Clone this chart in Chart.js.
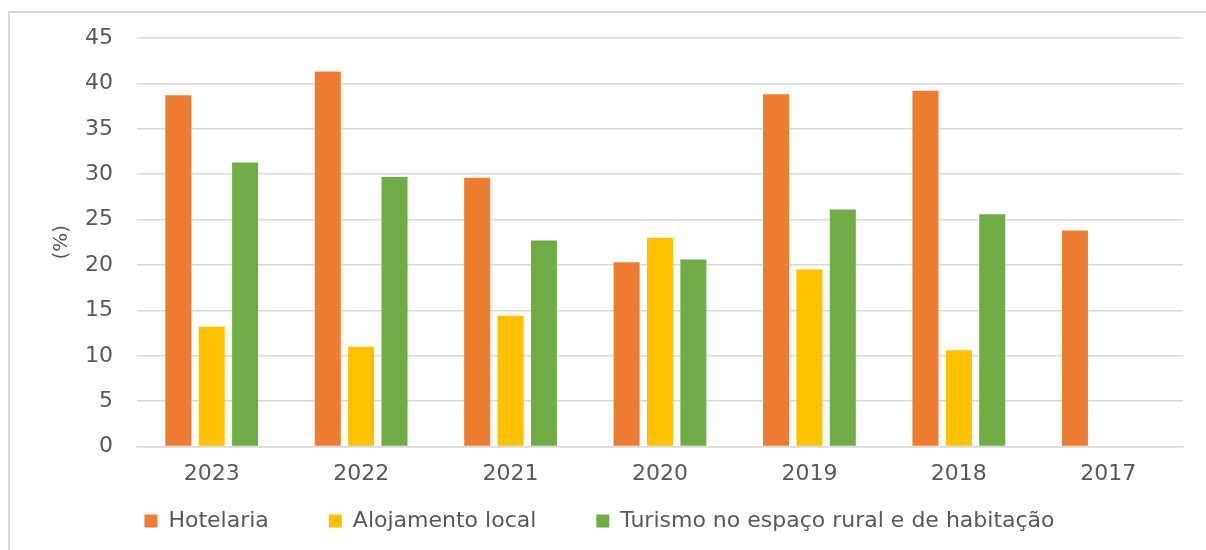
<!DOCTYPE html>
<html>
<head>
<meta charset="utf-8">
<script src="https://cdn.jsdelivr.net/npm/chart.js@4.4.1/dist/chart.umd.min.js"></script>
<style>
  html, body { margin: 0; padding: 0; background: #fff; overflow: hidden; }
</style>
</head>
<body>
<canvas id="c" width="1206" height="550"></canvas>
<script>
var years = ['2023', '2022', '2021', '2020', '2019', '2018', '2017'];
var hotelaria = [38.7, 41.3, 29.6, 20.3, 38.8, 39.2, 23.8];
var alojamento = [13.2, 11.0, 14.4, 23.0, 19.5, 10.6, null];
var turismo = [31.3, 29.7, 22.7, 20.6, 26.1, 25.6, null];
var yTicks = [0, 5, 10, 15, 20, 25, 30, 35, 40, 45];

var textColor = '#595959';
var gridColor = '#d9d9d9';

var data = {
    labels: years,
    datasets: [
        { label: 'Hotelaria', data: hotelaria, backgroundColor: '#ED7D31' },
        { label: 'Alojamento local', data: alojamento, backgroundColor: '#FFC000' },
        { label: 'Turismo no espaço rural e de habitação', data: turismo, backgroundColor: '#70AD47' },
    ]
};

// legend padding is used both across and above the items, so shrink its box
// for the layout and then move it to where the reference has it
var legendPlace = {
    id: 'legendPlace',
    beforeInit: function (chart) {
        var lg = chart.legend;
        var fit = lg.fit.bind(lg);
        lg.fit = function () { fit(); this.height = 49; };
    },
    afterLayout: function (chart) {
        var lg = chart.legend;
        var pad = lg.options.labels.padding;
        lg.top = 522 - 12 - pad;
        lg.bottom = 550;
        lg.height = lg.bottom - lg.top;
        lg.left += 4;
        lg.right += 4;
    }
};

// the cropped frame line round the chart (top and left edges only)
var frame = {
    id: 'frame',
    beforeDraw: function (chart) {
        var ctx = chart.ctx;
        ctx.save();
        ctx.strokeStyle = '#d9d9d9';
        ctx.lineWidth = 2;
        ctx.beginPath();
        ctx.moveTo(9, 550);
        ctx.lineTo(9, 12);
        ctx.lineTo(1206, 12);
        ctx.stroke();
        ctx.restore();
    }
};

var config = {
    type: 'bar',
    data: data,
    options: {
        responsive: false,
        animation: false,
        categoryPercentage: 0.67,
        barPercentage: 0.78,
        layout: { padding: { left: 8, right: 23, top: 38, bottom: 0 } },
        plugins: {
            tooltip: { enabled: false },
            legend: {
                position: 'bottom',
                labels: {
                    color: textColor,
                    font: { family: 'DejaVu Sans', size: 22 },
                    boxWidth: 13,
                    boxHeight: 13,
                    padding: 60,
                }
            }
        },
        scales: {
            x: {
                grid: { display: false, drawTicks: false },
                border: { color: gridColor, width: 1.5 },
                ticks: { color: textColor, font: { family: 'DejaVu Sans', size: 22 }, padding: 14, maxRotation: 0 },
            },
            y: {
                min: 0,
                max: 45,
                afterBuildTicks: function (scale) {
                    scale.ticks = yTicks.map(function (v) { return { value: v }; });
                },
                afterFit: function (scale) { scale.width = 129; },
                grid: { color: gridColor, lineWidth: 1.5, drawTicks: false },
                border: { display: false },
                ticks: { color: textColor, font: { family: 'DejaVu Sans', size: 22 }, padding: 24 },
                title: {
                    display: true,
                    text: '(%)',
                    color: textColor,
                    font: { family: 'DejaVu Sans', size: 20 },
                    padding: { top: 42, bottom: 0 },
                }
            }
        }
    },
    plugins: [frame, legendPlace]
};

var myChart = new Chart(document.getElementById('c'), config);
</script>
</body>
</html>
